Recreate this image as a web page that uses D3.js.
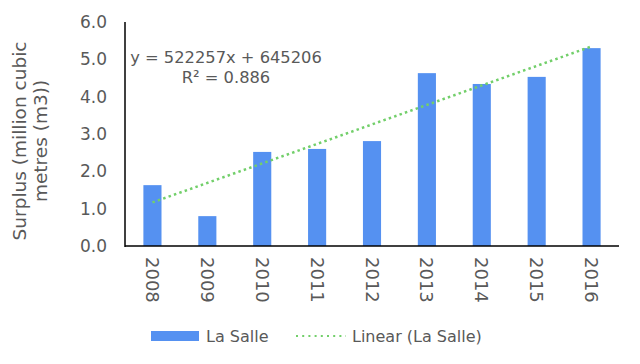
<!DOCTYPE html>
<html>
<head>
<meta charset="utf-8">
<script src="https://cdn.jsdelivr.net/npm/d3@7"></script>
<style>
  body { margin: 0; background: #fff; }
  text { font-family: "DejaVu Sans", Verdana, sans-serif; fill: #595959; }
</style>
</head>
<body>
<div id="chart"></div>
<script>
var years = ['2008', '2009', '2010', '2011', '2012', '2013', '2014', '2015', '2016']
var surplus = [1.63, 0.80, 2.52, 2.60, 2.81, 4.63, 4.34, 4.53, 5.30]
var yTicks = [0, 1, 2, 3, 4, 5, 6]
var trendSlope = 0.522257
var trendIntercept = 0.645206

var width = 640, height = 364
var m = { top: 22, right: 21, bottom: 118, left: 125 }

var svg = d3.select('#chart').append('svg')
	.attr('width', width).attr('height', height)

var x = d3.scaleBand().domain(years)
	.range([m.left, width - m.right]).paddingInner(0.67).paddingOuter(0.335)
var y = d3.scaleLinear().domain([0, 6]).range([height - m.bottom, m.top])

// y axis labels
var yAxis = d3.axisLeft(y).tickValues(yTicks).tickFormat(d3.format('.1f')).tickSize(0).tickPadding(18)
var gy = svg.append('g').attr('transform', 'translate(' + m.left + ',0)').call(yAxis)
gy.select('.domain').remove()
gy.selectAll('text').style('font-size', '17px').attr('fill', '#595959')
	.style('font-family', '"DejaVu Sans", Verdana, sans-serif')

// bars
svg.selectAll('.bar').data(surplus).enter().append('rect')
	.attr('class', 'bar')
	.attr('x', function(d, i) { return x(years[i]) })
	.attr('width', x.bandwidth())
	.attr('y', function(d) { return y(d) })
	.attr('height', function(d) { return y(0) - y(d) })
	.attr('fill', '#5591f1')

// trendline (Excel linear fit, x = 1..n)
svg.append('path').datum([years[0], years[years.length - 1]])
	.attr('d', d3.line()
		.x(function(d) { return x(d) + x.bandwidth() / 2 })
		.y(function(d) { return y(trendSlope * (years.indexOf(d) + 1) + trendIntercept) }))
	.attr('fill', 'none').attr('stroke', '#72cf6a').attr('stroke-width', 2.5)
	.attr('stroke-dasharray', '2.5 3.2').attr('stroke-linecap', 'butt')

// axis lines
svg.append('line').attr('x1', m.left).attr('x2', m.left)
	.attr('y1', m.top).attr('y2', y(0) + 1)
	.attr('stroke', '#000').attr('stroke-width', 1.5)
svg.append('line').attr('x1', m.left).attr('x2', width - m.right)
	.attr('y1', y(0)).attr('y2', y(0))
	.attr('stroke', '#000').attr('stroke-width', 1.5)

// x labels, rotated
svg.selectAll('.xl').data(years).enter().append('text')
	.attr('class', 'xl')
	.attr('transform', function(d) { return 'translate(' + (x(d) + x.bandwidth() / 2 - 6.5) + ',' + (y(0) + 11) + ') rotate(90)' })
	.attr('text-anchor', 'start')
	.style('font-size', '18px')
	.text(function(d) { return d })

// y title
var yt = svg.append('text')
	.attr('transform', 'translate(26,' + 141 + ') rotate(-90)')
	.attr('text-anchor', 'middle')
	.style('font-size', '18.5px')
yt.append('tspan').attr('x', 0).attr('dy', 0).text('Surplus (million cubic')
yt.append('tspan').attr('x', 0).attr('dy', 21).text('metres (m3))')

// equation
svg.append('text').attr('x', 226).attr('y', 63).attr('text-anchor', 'middle')
	.style('font-size', '16.3px').text('y = 522257x + 645206')
svg.append('text').attr('x', 226).attr('y', 83).attr('text-anchor', 'middle')
	.style('font-size', '16.3px').text('R² = 0.886')

// legend
var lg = svg.append('g')
lg.append('rect').attr('x', 151).attr('y', 331).attr('width', 48).attr('height', 10).attr('fill', '#5591f1')
lg.append('text').attr('x', 206).attr('y', 342).style('font-size', '16px').text('La Salle')
lg.append('line').attr('x1', 296).attr('x2', 346).attr('y1', 336).attr('y2', 336)
	.attr('stroke', '#72cf6a').attr('stroke-width', 2).attr('stroke-dasharray', '2 4.2')
lg.append('text').attr('x', 352).attr('y', 342).style('font-size', '16px').text('Linear (La Salle)')
</script>
</body>
</html>
